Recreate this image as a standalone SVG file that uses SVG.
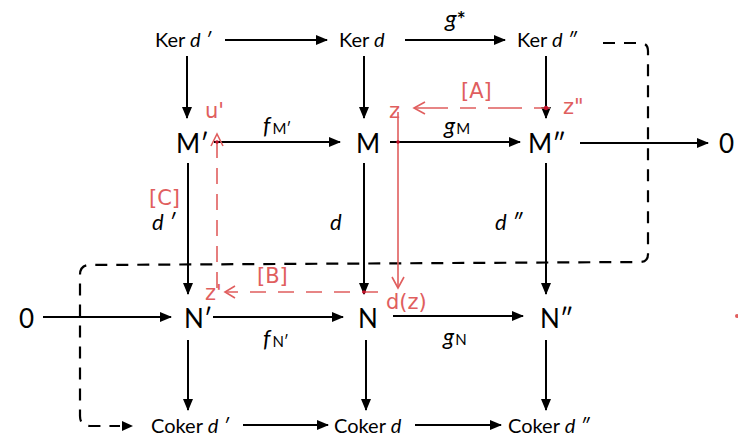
<svg xmlns="http://www.w3.org/2000/svg" width="738" height="444" viewBox="0 0 738 444">
<defs>
<style>
.t{font-family:Lato,"Open Sans","Liberation Sans",sans-serif;fill:#000}
.k{font-size:20px}
.b{font-size:26px}
.i{font-style:italic}
.s{font-size:15px}
.ar{stroke:#000;stroke-width:2;fill:none;marker-end:url(#ah)}
.dsh{stroke:#000;stroke-width:2.2;fill:none;stroke-dasharray:12 9}
.r{stroke:#e05e5e;stroke-width:1.6;fill:none}
.rt{font-family:"DejaVu Sans","Liberation Sans",sans-serif;fill:#e05e5e;font-size:21px}
</style>
<marker id="ah" markerUnits="userSpaceOnUse" markerWidth="12" markerHeight="12" refX="11" refY="6" orient="auto">
<path d="M0,1 L12,6 L0,11 Z" fill="#000"/>
</marker>
</defs>
<rect width="738" height="444" fill="#fff"/>

<g id="connectors">
<line class="ar" x1="225" y1="40" x2="327" y2="40"/>
<line class="ar" x1="405" y1="40" x2="505" y2="40"/>
<line class="ar" x1="187" y1="56" x2="187" y2="118"/>
<line class="ar" x1="364" y1="56" x2="364" y2="118"/>
<line class="ar" x1="546" y1="56" x2="546" y2="118"/>
<line class="ar" x1="214" y1="142" x2="340" y2="142"/>
<line class="ar" x1="390" y1="142" x2="520" y2="142"/>
<line class="ar" x1="580" y1="143" x2="708" y2="143"/>
<line class="ar" x1="188" y1="163" x2="188" y2="294"/>
<line class="ar" x1="364" y1="163" x2="364" y2="294"/>
<line class="ar" x1="546" y1="163" x2="546" y2="294"/>
<line class="ar" x1="43" y1="317" x2="171" y2="317"/>
<line class="ar" x1="213" y1="317" x2="343" y2="317"/>
<line class="ar" x1="393" y1="316" x2="523" y2="316"/>
<line class="ar" x1="188" y1="340" x2="188" y2="410"/>
<line class="ar" x1="366" y1="340" x2="366" y2="410"/>
<line class="ar" x1="546" y1="340" x2="546" y2="410"/>
<line class="ar" x1="243" y1="425" x2="328" y2="425"/>
<line class="ar" x1="415" y1="425" x2="501" y2="425"/>
<path class="dsh" d="M603,43 L640,43 Q648,43 648,51 L648,254 Q648,262 640,262 L90,265 Q80,265 80,275 L80,416 Q80,426 90,426 L120,426"/>
<path d="M122,421 L133,426 L122,431 Z" fill="#000"/>
</g>

<g id="ker-d1"><text class="t k" x="155" y="47">Ker <tspan class="i">d ′</tspan></text></g>
<g id="ker-d"><text class="t k" x="339" y="47">Ker <tspan class="i">d</tspan></text></g>
<g id="ker-d2"><text class="t k" x="517" y="47">Ker <tspan class="i">d ″</tspan></text></g>
<g id="lbl-gstar"><text class="t i" x="445" y="27" font-size="24">g<tspan font-style="normal" font-weight="bold" font-size="21">*</tspan></text></g>

<g id="M1"><text class="t b" x="176" y="153">M′</text></g>
<g id="M"><text class="t b" x="356" y="153">M</text></g>
<g id="M2"><text class="t b" x="528" y="153">M″</text></g>
<g id="zeroR"><text class="t b" x="719" y="153">0</text></g>
<g id="lbl-fM"><text class="t i" x="263" y="134" font-size="23">f<tspan class="s" font-style="normal" dx="2">M′</tspan></text></g>
<g id="lbl-gM"><text class="t i" x="444" y="134" font-size="23">g<tspan class="s" font-style="normal" dx="1">M</tspan></text></g>

<g id="lbl-d1"><text class="t i" x="152" y="230" font-size="22">d ′</text></g>
<g id="lbl-d"><text class="t i" x="330" y="230" font-size="22">d</text></g>
<g id="lbl-d2"><text class="t i" x="495" y="230" font-size="22">d ″</text></g>

<g id="zeroL"><text class="t b" x="19" y="328">0</text></g>
<g id="N1"><text class="t b" x="184" y="328">N′</text></g>
<g id="N"><text class="t b" x="358" y="328">N</text></g>
<g id="N2"><text class="t b" x="540" y="328">N″</text></g>
<g id="lbl-fN"><text class="t i" x="263" y="347" font-size="23">f<tspan class="s" font-style="normal" dx="2">N′</tspan></text></g>
<g id="lbl-gN"><text class="t i" x="443" y="345" font-size="23">g<tspan class="s" font-style="normal" dx="1">N</tspan></text></g>

<g id="coker-d1"><text class="t k" x="151" y="433">Coker <tspan class="i">d ′</tspan></text></g>
<g id="coker-d"><text class="t k" x="334" y="433">Coker <tspan class="i">d</tspan></text></g>
<g id="coker-d2"><text class="t k" x="508" y="433">Coker <tspan class="i">d ″</tspan></text></g>

<g id="annotations">
<line class="r" x1="217" y1="288" x2="217" y2="135" stroke-dasharray="16 10"/>
<path class="r" d="M211,146 L217,134 L223,146"/>
<text class="rt" x="205" y="118">u'</text>
<text class="rt" x="149" y="205">[C]</text>
<text class="rt" x="389" y="118">z</text>
<path class="r" d="M425,102 L414,108 L425,114"/>
<line class="r" x1="414" y1="108" x2="560" y2="108" stroke-dasharray="34 12 16 12"/>
<text class="rt" x="461" y="98">[A]</text>
<text class="rt" x="563" y="114">z"</text>
<line class="r" x1="398" y1="112" x2="398" y2="288"/>
<path class="r" d="M392,277 L398,288 L404,277"/>
<text class="rt" x="386" y="309">d(z)</text>
<line class="r" x1="378" y1="292" x2="225" y2="292" stroke-dasharray="16 12"/>
<path class="r" d="M235,286 L225,292 L235,298"/>
<text class="rt" x="205" y="300">z'</text>
<text class="rt" x="257" y="283">[B]</text>
<circle cx="546" cy="108" r="2.2" fill="#c0102a"/>
<circle cx="217" cy="142" r="1.8" fill="#c0102a"/>
<circle cx="398" cy="142" r="1.8" fill="#c0102a"/>
<circle cx="364" cy="292" r="1.8" fill="#c0102a"/>
<circle cx="737" cy="316" r="2" fill="#e05e5e"/>
</g>
</svg>
